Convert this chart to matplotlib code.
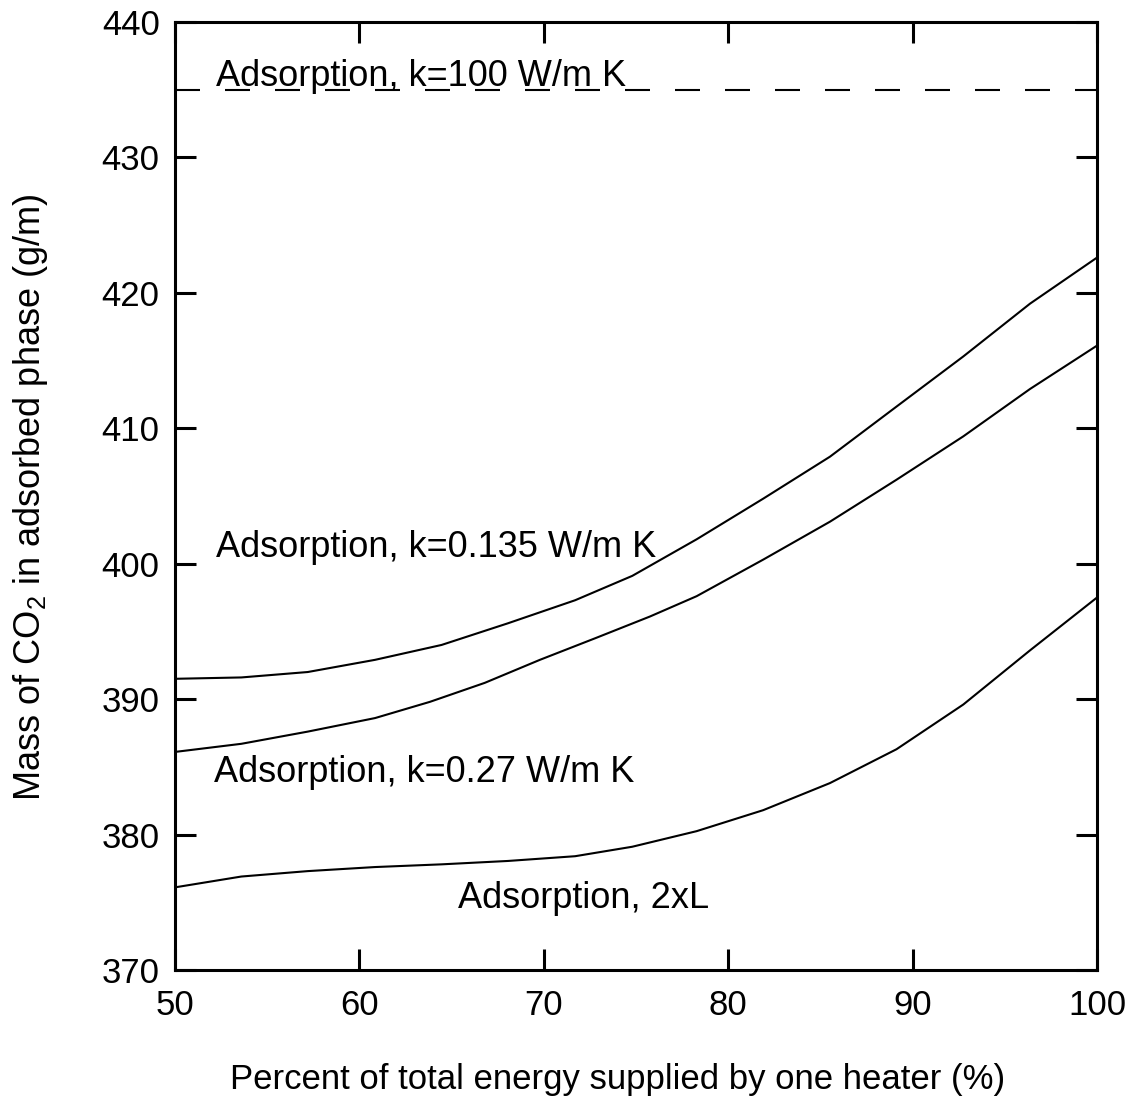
import numpy as np
import matplotlib
matplotlib.use('Agg')
import matplotlib.pyplot as plt

plt.rcParams['font.family'] = ['Liberation Sans', 'DejaVu Sans']
plt.rcParams['mathtext.default'] = 'regular'

# Datos
x_k0135 = [50, 53.6, 57.2, 60.85, 64.46, 68.06, 71.7, 74.8, 78.29, 81.9,
           85.52, 89.13, 92.75, 96.37, 100]
y_k0135 = [391.5, 391.6, 392.0, 392.9, 394.0, 395.6, 397.3, 399.1, 401.8,
           404.8, 407.9, 411.6, 415.3, 419.2, 422.6]

x_k027 = [50, 53.6, 57.2, 60.85, 63.83, 66.8, 69.79, 72.8, 75.76, 78.29,
          81.9, 85.52, 89.13, 92.75, 96.37, 100]
y_k027 = [386.1, 386.7, 387.6, 388.6, 389.8, 391.2, 392.9, 394.5, 396.1,
          397.6, 400.3, 403.1, 406.2, 409.4, 412.9, 416.1]

x_2xL = [50, 53.6, 57.2, 60.85, 64.46, 68.06, 71.7, 74.8, 78.29, 81.9,
         85.52, 89.13, 92.75, 96.37, 100]
y_2xL = [376.1, 376.9, 377.3, 377.6, 377.8, 378.05, 378.4, 379.1, 380.25,
         381.8, 383.8, 386.3, 389.6, 393.6, 397.5]

k100_level = 435.0

etiquetas = ['Adsorption, k=100 W/m K', 'Adsorption, k=0.135 W/m K',
             'Adsorption, k=0.27 W/m K', 'Adsorption, 2xL']

fig = plt.figure(figsize=(11.39, 11.03), dpi=100)
ax = fig.add_axes([0.1536, 0.1206, 0.8095, 0.8595])

ax.plot(x_k0135, y_k0135, 'k-', lw=1.5)
ax.plot(x_k027, y_k027, 'k-', lw=1.5)
ax.plot(x_2xL, y_2xL, 'k-', lw=1.5)
ax.plot([50, 100], [k100_level, k100_level], color='k', lw=1.5,
        dashes=(12, 12))

fs = 26
ax.text(52.2, 436.0, etiquetas[0], fontsize=fs, va='center', ha='left')
ax.text(52.2, 401.2, etiquetas[1], fontsize=fs, va='center', ha='left')
ax.text(52.1, 384.55, etiquetas[2], fontsize=fs, va='center', ha='left')
ax.text(65.35, 375.3, etiquetas[3], fontsize=fs, va='center', ha='left')

ax.set_xlim(50, 100)
ax.set_ylim(370, 440)
ax.set_xticks([50, 60, 70, 80, 90, 100])
ax.set_yticks([370, 380, 390, 400, 410, 420, 430, 440])
ax.tick_params(direction='in', length=15, width=2.2, labelsize=25,
               top=True, right=True)
ax.tick_params(axis='y', pad=11)
ax.tick_params(axis='x', pad=14)
for s in ax.spines.values():
    s.set_linewidth(2.2)

fig.text(0.027, 0.549, 'Mass of CO$_2$ in adsorbed phase (g/m)', fontsize=26,
         rotation=90, ha='center', va='center')
fig.text(0.542, 0.021, 'Percent of total energy supplied by one heater (%)',
         fontsize=25, ha='center', va='center')

plt.savefig('out.png')
